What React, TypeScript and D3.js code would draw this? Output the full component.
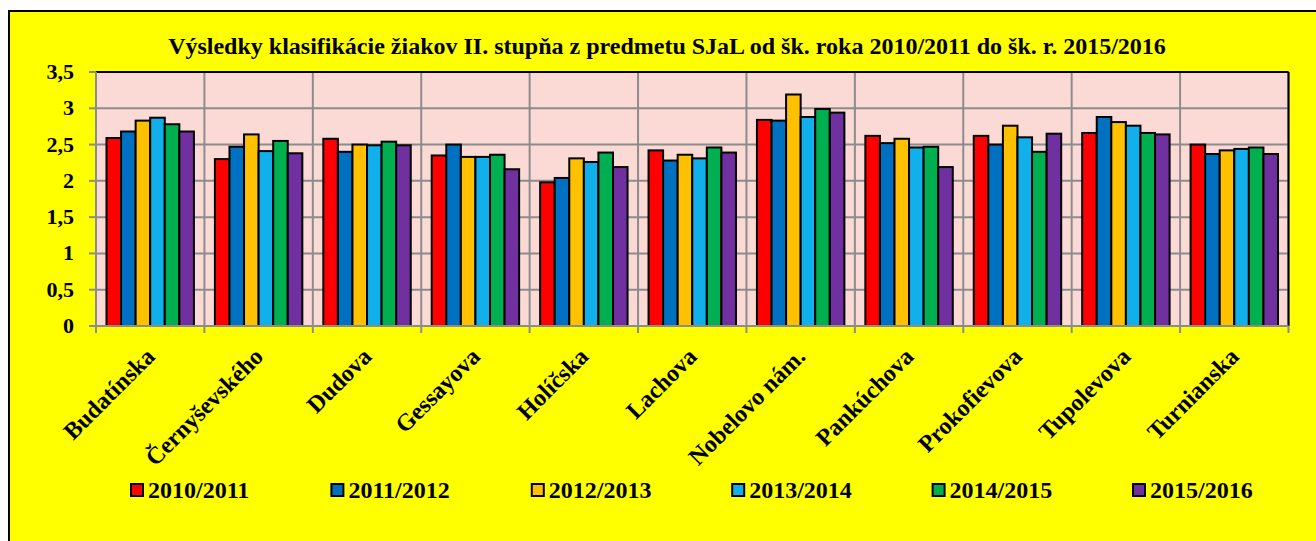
import React from "react";
import * as d3 from "d3";

const categories = ["Budatínska", "Černyševského", "Dudova", "Gessayova", "Holíčska", "Lachova", "Nobelovo nám.", "Pankúchova", "Prokofievova", "Tupolevova", "Turnianska"];
const seriesNames = ["2010/2011", "2011/2012", "2012/2013", "2013/2014", "2014/2015", "2015/2016"];
const seriesColors = ["#FF0000", "#0070C0", "#FFC000", "#12B0EA", "#00B050", "#7030A0"];
const s2010 = [2.59, 2.30, 2.58, 2.35, 1.98, 2.42, 2.84, 2.62, 2.62, 2.66, 2.50];
const s2011 = [2.68, 2.47, 2.40, 2.50, 2.04, 2.28, 2.83, 2.52, 2.50, 2.88, 2.37];
const s2012 = [2.83, 2.64, 2.50, 2.33, 2.31, 2.36, 3.19, 2.58, 2.76, 2.81, 2.42];
const s2013 = [2.87, 2.41, 2.49, 2.33, 2.26, 2.31, 2.88, 2.46, 2.60, 2.76, 2.44];
const s2014 = [2.78, 2.55, 2.54, 2.36, 2.39, 2.46, 2.99, 2.47, 2.40, 2.66, 2.46];
const s2015 = [2.68, 2.38, 2.49, 2.16, 2.19, 2.39, 2.94, 2.19, 2.65, 2.64, 2.37];
const seriesValues = [s2010, s2011, s2012, s2013, s2014, s2015];
const yTicks = [0, 0.5, 1, 1.5, 2, 2.5, 3, 3.5];
const yTickLabels = ["0", "0,5", "1", "1,5", "2", "2,5", "3", "3,5"];
const title = "Výsledky klasifikácie žiakov II. stupňa z predmetu SJaL od šk. roka 2010/2011 do šk. r. 2015/2016";

const W = 1316, H = 541;
const plot = { left: 96, right: 1288.5, top: 72, bottom: 326 };
const FONT = "'Liberation Serif', 'Times New Roman', serif";
const GRID = "#8C8C8C";

export default function App() {
  const x0 = d3.scaleBand<string>().domain(categories).range([plot.left, plot.right]).paddingInner(0).paddingOuter(0);
  const x1 = d3.scaleBand<string>().domain(seriesNames).range([0, x0.bandwidth()]).paddingInner(0).paddingOuter(0.72);
  const y = d3.scaleLinear().domain([0, 3.5]).range([plot.bottom, plot.top]);
  const boundaries = categories.map((c) => x0(c) as number).concat([plot.right]);

  return (
    <svg width={W} height={H} style={{ position: "absolute", left: 0, top: 0, display: "block" }}>
      <rect x={9} y={11} width={W + 20} height={H + 20} fill="#FFFF00" stroke="#000" strokeWidth={2} />
      <text x={667} y={54} textAnchor="middle" fontFamily={FONT} fontWeight="bold" fontSize={24}>{title}</text>
      <rect x={plot.left} y={plot.top} width={plot.right - plot.left} height={plot.bottom - plot.top} fill="#FBDAD5" />
      {yTicks.map((t) => (
        <line key={"hg" + t} x1={plot.left} x2={plot.right} y1={y(t)} y2={y(t)} stroke={GRID} strokeWidth={2} />
      ))}
      {boundaries.map((b, i) => (
        <line key={"vg" + i} x1={b} x2={b} y1={plot.top} y2={plot.bottom + 7} stroke={GRID} strokeWidth={2} />
      ))}
      <line x1={plot.left} x2={plot.right} y1={plot.top} y2={plot.top} stroke="#000" strokeWidth={2} />
      <line x1={plot.right} x2={plot.right} y1={plot.top} y2={plot.bottom} stroke="#000" strokeWidth={2} />
      {seriesValues.map((vals, si) =>
        vals.map((v, ci) => {
          const bx = (x0(categories[ci]) as number) + (x1(seriesNames[si]) as number);
          return (
            <rect key={si + "-" + ci} x={bx} y={y(v)} width={x1.bandwidth()} height={y(0) - y(v)} fill={seriesColors[si]} stroke="#000" strokeWidth={2} />
          );
        })
      )}
      <line x1={plot.left} x2={plot.left} y1={plot.top} y2={plot.bottom} stroke={GRID} strokeWidth={2} />
      <line x1={plot.left} x2={plot.right} y1={plot.bottom} y2={plot.bottom} stroke={GRID} strokeWidth={2} />
      {yTicks.map((t, i) => (
        <g key={"yt" + t}>
          <line x1={plot.left - 7} x2={plot.left} y1={y(t)} y2={y(t)} stroke={GRID} strokeWidth={2} />
          <text x={74} y={y(t) + 7} textAnchor="end" fontFamily={FONT} fontWeight="bold" fontSize={22}>{yTickLabels[i]}</text>
        </g>
      ))}
      {categories.map((c) => {
        const cx = (x0(c) as number) + x0.bandwidth() / 2;
        return (
          <text key={"xl" + c} transform={`translate(${cx + 6},${358}) rotate(-45)`} textAnchor="end" fontFamily={FONT} fontWeight="bold" fontSize={24}>{c}</text>
        );
      })}
      {seriesNames.map((s, i) => {
        const lx = 131 + i * 200.4;
        return (
          <g key={"lg" + s}>
            <rect x={lx} y={484} width={12} height={12} fill={seriesColors[i]} stroke="#000" strokeWidth={2} />
            <text x={lx + 17} y={498} fontFamily={FONT} fontWeight="bold" fontSize={24}>{s}</text>
          </g>
        );
      })}
    </svg>
  );
}
